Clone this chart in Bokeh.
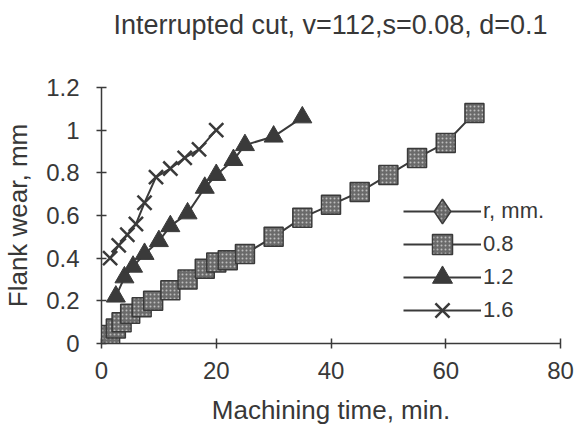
from bokeh.plotting import figure
from bokeh.models import Legend, LegendItem, Range1d, FixedTicker, Title
from bokeh.embed import file_html
from bokeh.resources import INLINE

# ---- data ----
x_08 = [1.5, 2.5, 3.5, 5, 7, 9, 12, 15, 18, 20, 22, 25, 30, 35, 40, 45, 50, 55, 60, 65]
y_08 = [0.04, 0.07, 0.10, 0.14, 0.17, 0.20, 0.25, 0.30, 0.35, 0.38, 0.39, 0.42, 0.50, 0.59, 0.65, 0.71, 0.79, 0.87, 0.94, 1.08]

x_12 = [2.5, 4, 5.5, 7.5, 10, 12, 15, 18, 20, 23, 25, 30, 35]
y_12 = [0.22, 0.31, 0.36, 0.42, 0.48, 0.55, 0.61, 0.73, 0.79, 0.86, 0.93, 0.97, 1.06]

x_16 = [1.5, 3, 4.5, 6, 7.5, 9.5, 12, 14.5, 17, 20]
y_16 = [0.40, 0.46, 0.51, 0.56, 0.66, 0.78, 0.82, 0.87, 0.91, 1.00]

# header entry of the legend (point kept outside the plotted range)
x_hd = [-100]
y_hd = [-100]

title_text = "Interrupted cut, v=112,s=0.08, d=0.1"
legend_labels = ["r, mm.", "0.8", "1.2", "1.6"]
x_ticks = [0, 20, 40, 60, 80]
y_ticks = [0, 0.2, 0.4, 0.6, 0.8, 1.0, 1.2]
y_tick_labels = {0: "0", 0.2: "0.2", 0.4: "0.4", 0.6: "0.6", 0.8: "0.8", 1.0: "1", 1.2: "1.2"}

FONT = "Liberation Sans"
DARK = "#3a3a3a"
TXT = "#383838"

p = figure(width=575, height=432, output_backend="svg", toolbar_location=None,
           x_range=Range1d(0, 80), y_range=Range1d(0, 1.2),
           min_border_left=100, min_border_right=15, min_border_top=87, min_border_bottom=89)

p.title = Title(text=title_text, align="left", offset=12,
                text_font=FONT, text_font_size="27px", text_font_style="normal",
                text_color=TXT, standoff=14)
# blank spacer panel between the title and the frame
p.add_layout(Title(text=" ", text_font_size="2px", standoff=37), "above")

p.grid.visible = False
p.outline_line_color = None
p.background_fill_color = "white"
p.border_fill_color = "white"

for ax in (p.xaxis[0], p.yaxis[0]):
    ax.axis_line_color = DARK
    ax.axis_line_width = 1.5
    ax.major_tick_line_color = DARK
    ax.major_tick_line_width = 1.5
    ax.major_tick_in = 5
    ax.major_tick_out = 5
    ax.minor_tick_line_color = None
    ax.major_label_text_font = FONT
    ax.major_label_text_font_size = "24px"
    ax.major_label_text_color = TXT
    ax.axis_label_text_font = FONT
    ax.axis_label_text_font_size = "26px"
    ax.axis_label_text_font_style = "normal"
    ax.axis_label_text_color = TXT

p.xaxis.ticker = FixedTicker(ticks=x_ticks)
p.yaxis.ticker = FixedTicker(ticks=y_ticks)
p.yaxis.major_label_overrides = y_tick_labels
p.xaxis.axis_label = "Machining time, min."
p.yaxis.axis_label = "Flank wear, mm"
p.xaxis.major_label_standoff = 13
p.yaxis.major_label_standoff = 17
p.xaxis.axis_label_standoff = 13
p.yaxis.axis_label_standoff = 10

hd_line = p.line(x_hd, y_hd, line_color=DARK, line_width=2)
hd_mk = p.scatter(x_hd, y_hd, marker="diamond", size=20, fill_color="#666666",
                  line_color=DARK, line_width=1.5, hatch_pattern=".", hatch_color="#aaaaaa", hatch_scale=4)

l08 = p.line(x_08, y_08, line_color=DARK, line_width=2)
m08 = p.scatter(x_08, y_08, marker="square", size=19, fill_color="#6a6a6a", line_color=DARK,
                line_width=1.5, hatch_pattern=".", hatch_color="#bdbdbd", hatch_scale=4)

l12 = p.line(x_12, y_12, line_color=DARK, line_width=2)
m12 = p.scatter(x_12, y_12, marker="triangle", size=19, fill_color=DARK, line_color=DARK, line_width=1)

l16 = p.line(x_16, y_16, line_color=DARK, line_width=2)
m16 = p.scatter(x_16, y_16, marker="x", size=20, line_color=DARK, line_width=2.5)

entries = [
    (legend_labels[0], [hd_line, hd_mk], 62, 101),
    (legend_labels[1], [l08, m08], 50, 74),
    (legend_labels[2], [l12, m12], 50, 41),
    (legend_labels[3], [l16, m16], 50, 8),
]
for lab, rends, gh, ly in entries:
    lg = Legend(items=[LegendItem(label=lab, renderers=rends)],
                location=(302, ly), glyph_width=78, glyph_height=gh, spacing=0, padding=0, margin=0,
                label_standoff=2, border_line_color=None, background_fill_alpha=0,
                label_text_font=FONT, label_text_font_size="22px", label_text_color=TXT)
    p.add_layout(lg, "center")

open("out.html", "w").write(file_html(p, INLINE))
